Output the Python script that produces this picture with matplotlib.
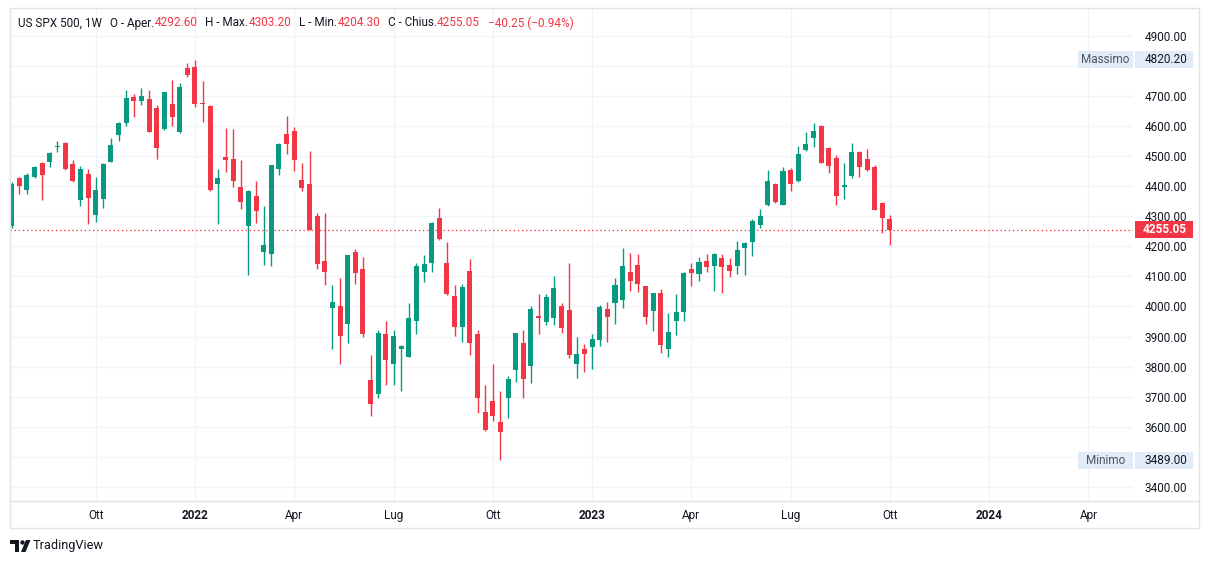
"""Grafico settimanale a candele dell'indice US SPX 500 (stile TradingView)."""
import matplotlib
matplotlib.use("Agg")
import matplotlib.pyplot as plt
import matplotlib.dates as mdates
import matplotlib.transforms as mtransforms
from matplotlib.patches import Rectangle, Polygon, Ellipse
from matplotlib.lines import Line2D
import numpy as np
import pandas as pd

W, H = 1209, 564
VERDE = "#089981"
ROSSO = "#f23645"
TESTO = "#131722"
GRIGLIA = "#f0f3fa"
BORDO = "#e0e3eb"
AZZURRO = "#e1ecf8"

DATA_INIZIO = "2021-07-19"  # prima candela settimanale

aperture = [
    4268, 4426, 4389, 4432, 4479, 4482, 4530, 4545, 4475, 4353, 4442, 4304,
    4357, 4482, 4571, 4611, 4697, 4684, 4691, 4661, 4591, 4674, 4581, 4793,
    4797, 4676, 4668, 4409, 4499, 4492, 4399, 4267, 4369, 4182, 4174, 4459,
    4575, 4585, 4421, 4408, 4302, 4152, 3995, 4002, 3943, 4182, 4125, 3756,
    3710, 3910, 3810, 3857, 3833, 3953, 4116, 4143, 4295, 4145, 4035, 3930,
    4119, 3907, 3650, 3687, 3614, 3697, 3790, 3877, 3803, 3967, 3947, 3963,
    4003, 3987, 3810, 3859, 3866, 3889, 3992, 4012, 4022, 4115, 4138, 4068,
    3985, 4045, 3859, 3952, 3982, 4125, 4108, 4152, 4135, 4161, 4138, 4135,
    4195, 4215, 4271, 4338, 4408, 4338, 4454, 4416, 4521, 4561, 4601, 4528,
    4495, 4399, 4435, 4515, 4491, 4465, 4345, 4292.60,
]
massimi = [
    4415, 4432, 4443, 4469, 4481, 4514, 4552, 4547, 4489, 4469, 4456, 4432,
    4479, 4562, 4613, 4720, 4707, 4727, 4720, 4671, 4714, 4754, 4744, 4810,
    4820.20, 4750, 4671, 4456, 4595, 4591, 4489, 4386, 4419, 4333, 4472, 4545,
    4634, 4598, 4478, 4518, 4310, 4310, 4072, 4095, 4172, 4192, 4165, 3839,
    3920, 3950, 3920, 3873, 4013, 4143, 4172, 4281, 4328, 4215, 4072, 4075,
    4158, 3920, 3740, 3807, 3720, 3767, 3913, 3920, 4003, 4043, 4043, 4103,
    4013, 4143, 3897, 3875, 3909, 4005, 4015, 4095, 4195, 4178, 4175, 4068,
    4045, 4058, 3978, 4042, 4115, 4145, 4165, 4175, 4178, 4175, 4161, 4218,
    4215, 4291, 4325, 4454, 4411, 4464, 4461, 4535, 4581, 4611, 4604, 4531,
    4505, 4478, 4545, 4518, 4525, 4471, 4348, 4303.20,
]
minimi = [
    4262, 4373, 4373, 4426, 4353, 4465, 4515, 4455, 4415, 4334, 4274, 4281,
    4327, 4480, 4552, 4601, 4631, 4671, 4580, 4492, 4588, 4601, 4578, 4764,
    4664, 4615, 4385, 4274, 4446, 4399, 4324, 4104, 4278, 4138, 4134, 4439,
    4509, 4452, 4385, 4253, 4126, 4070, 3860, 3810, 3877, 4076, 3897, 3637,
    3694, 3740, 3740, 3720, 3832, 3910, 4080, 4113, 4220, 4038, 3903, 3883,
    3837, 3644, 3584, 3620, 3489.00, 3630, 3747, 3697, 3744, 3907, 3937, 3937,
    3913, 3827, 3763, 3783, 3793, 3870, 3883, 3943, 3996, 4052, 4048, 3943,
    3919, 3846, 3833, 3905, 3952, 4068, 4085, 4115, 4052, 4045, 4098, 4108,
    4105, 4168, 4261, 4335, 4345, 4336, 4384, 4413, 4518, 4531, 4478, 4445,
    4338, 4358, 4428, 4431, 4451, 4320, 4245, 4204.30,
]
chiusure = [
    4408, 4400, 4439, 4465, 4439, 4512, 4535, 4459, 4417, 4459, 4361, 4389,
    4475, 4538, 4611, 4694, 4684, 4700, 4581, 4528, 4714, 4631, 4730, 4770,
    4675, 4673, 4389, 4429, 4489, 4419, 4346, 4383, 4318, 4204, 4472, 4542,
    4542, 4489, 4395, 4255, 4140, 4113, 4015, 3903, 4172, 4110, 3907, 3677,
    3913, 3823, 3903, 3867, 3963, 4133, 4140, 4278, 4223, 4040, 3930, 4065,
    3880, 3694, 3590, 3634, 3581, 3760, 3913, 3760, 3993, 3960, 4030, 4063,
    3927, 3840, 3843, 3843, 3892, 3998, 3966, 4072, 4135, 4085, 4075, 3965,
    4045, 3873, 3915, 3982, 4112, 4112, 4148, 4132, 4175, 4132, 4118, 4188,
    4211, 4285, 4301, 4418, 4348, 4451, 4406, 4508, 4541, 4584, 4478, 4468,
    4368, 4403, 4515, 4465, 4455, 4322, 4295.30, 4255.05,
]

prezzi_asse = list(range(3400, 5000, 100))
date_etichette = ["2021-10-04", "2022-01-03", "2022-04-04", "2022-07-04",
                  "2022-10-03", "2023-01-02", "2023-04-03", "2023-07-03",
                  "2023-10-02", "2024-01-01", "2024-04-01"]
etichette = ["Ott", "2022", "Apr", "Lug", "Ott", "2023", "Apr", "Lug",
             "Ott", "2024", "Apr"]

MASSIMO = 4820.20
MINIMO = 3489.00

plt.rcParams["font.family"] = ["Roboto", "DejaVu Sans"]


def px(x, y):
    """Pixel dell'immagine -> frazione della figura."""
    return x / W, 1 - y / H


fig = plt.figure(figsize=(W / 100, H / 100), dpi=100)
fig.patch.set_facecolor("white")

# area del grafico: x 10..1133, y 8..501 (pixel)
ax = fig.add_axes([10 / W, 1 - 501 / H, 1123 / W, 493 / H])
ax.set_facecolor("white")
for s in ax.spines.values():
    s.set_visible(False)

date = pd.date_range(DATA_INIZIO, periods=len(aperture), freq="7D")
xs = mdates.date2num(date)
o = np.array(aperture, dtype=float)
c = np.array(chiusure, dtype=float)
colori = [VERDE if cc >= oo else ROSSO for oo, cc in zip(o, c)]

ax.vlines(xs, minimi, massimi, colors=colori, lw=1.0, zorder=3)
ax.bar(xs, np.maximum(np.abs(c - o), 2.5), bottom=np.minimum(o, c),
       width=4.6, color=colori, linewidth=0, zorder=4)

ax.axhline(chiusure[-1], color=ROSSO, lw=0.9, linestyle=(0, (1.1, 2.2)),
           zorder=2)

x0 = xs[0]
ax.set_xlim(x0 - 1.53, x0 + 1027.8)
ax.set_ylim(3352.6, 4993.2)

ax.set_xticks(mdates.date2num(pd.to_datetime(date_etichette)))
ax.set_xticklabels(etichette)
for t, e in zip(ax.get_xticklabels(), etichette):
    if e.isdigit():
        t.set_fontweight("bold")
ax.tick_params(axis="x", length=0, pad=6, labelsize=8.5, labelcolor=TESTO)

# le etichette coperte dai riquadri Massimo / Minimo restano vuote
coperti = {round(MASSIMO, -2), round(MINIMO, -2)}
ax.yaxis.tick_right()
ax.set_yticks(prezzi_asse)
ax.set_yticklabels(["" if p in coperti else f"{p:.2f}" for p in prezzi_asse])
ax.tick_params(axis="y", length=0, pad=8.6, labelsize=8.5, labelcolor=TESTO)

ax.grid(True, color=GRIGLIA, lw=1.0, zorder=0)
ax.set_axisbelow(True)

# cornice e separatore dell'asse dei tempi
fig.add_artist(Rectangle(px(9.5, 528), 1189.5 / W, 520 / H,
                         transform=fig.transFigure, fc="none", ec=BORDO,
                         lw=1.0, zorder=1))
fig.add_artist(Line2D([9.5 / W, 1199 / W], [1 - 501 / H, 1 - 501 / H],
                      transform=fig.transFigure, color=BORDO, lw=1.0))

# etichette di prezzo sull'asse destro
trans = mtransforms.blended_transform_factory(fig.transFigure, ax.transData)
vpp = (ax.get_ylim()[1] - ax.get_ylim()[0]) / 493.0  # valore per pixel


def etichetta_prezzo(valore, sfondo, colore, grassetto=False, nome=None):
    """Disegna il riquadro del prezzo sull'asse destro."""
    fig.add_artist(Rectangle((1135 / W, valore - 8.5 * vpp), 58 / W,
                             17 * vpp, transform=trans, fc=sfondo,
                             ec="none", zorder=6))
    fig.text(1187 / W, valore, f"{valore:.2f}", transform=trans,
             ha="right", va="center", fontsize=8.5, color=colore,
             fontweight="bold" if grassetto else "normal", zorder=7)
    if nome:
        fig.add_artist(Rectangle((1078 / W, valore - 8.5 * vpp), 55 / W,
                                 17 * vpp, transform=trans, fc=sfondo,
                                 ec="none", zorder=6))
        fig.text(1105.5 / W, valore, nome, transform=trans, ha="center",
                 va="center", fontsize=8.5, color="#50535e", zorder=7)


etichetta_prezzo(MASSIMO, AZZURRO, TESTO, nome="Massimo")
etichetta_prezzo(MINIMO, AZZURRO, TESTO, nome="Minimo")
etichetta_prezzo(chiusure[-1], ROSSO, "white", grassetto=True)

# intestazione OHLC
renderer = fig.canvas.get_renderer()
variazione = chiusure[-1] - chiusure[-2]
percento = variazione / chiusure[-2] * 100
segmenti = [
    ("US SPX 500, 1W", TESTO, 8),
    ("O - Aper.", TESTO, 0), (f"{aperture[-1]:.2f}", ROSSO, 8),
    ("H - Max.", TESTO, 0), (f"{massimi[-1]:.2f}", ROSSO, 8),
    ("L - Min.", TESTO, 0), (f"{minimi[-1]:.2f}", ROSSO, 8),
    ("C - Chius.", TESTO, 0), (f"{chiusure[-1]:.2f}", ROSSO, 8),
    (f"\u2212{abs(variazione):.2f} (\u2212{abs(percento):.2f}%)", ROSSO, 0),
]
xc = 18
for testo, colore, spazio in segmenti:
    fx, fy = px(xc, 23)
    t = fig.text(fx, fy, testo, color=colore, fontsize=8.5, va="center",
                 zorder=8)
    xc += t.get_window_extent(renderer).width + spazio

# logo TradingView
fig.add_artist(Polygon([px(10, 540), px(19, 540), px(19, 552), px(15, 552),
                        px(15, 544), px(10, 544)], closed=True,
                       transform=fig.transFigure, fc=TESTO, ec="none"))
cx, cy = px(22.5, 542.5)
fig.add_artist(Ellipse((cx, cy), 4.4 / W, 4.4 / H, transform=fig.transFigure,
                       fc=TESTO, ec="none"))
fig.add_artist(Polygon([px(21, 552), px(25.5, 552), px(30.5, 540),
                        px(26, 540)], closed=True,
                       transform=fig.transFigure, fc=TESTO, ec="none"))
fx, fy = px(33, 546)
fig.text(fx, fy, "TradingView", fontsize=9.2, color=TESTO, va="center")

fig.savefig("out.png", dpi=100, facecolor="white")
